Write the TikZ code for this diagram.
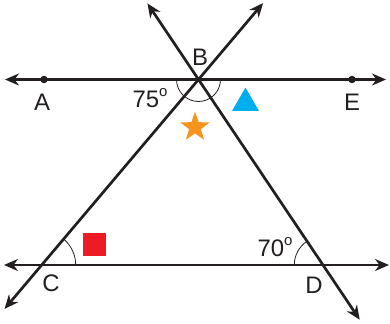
\documentclass[tikz,border=0pt]{standalone}
\usepackage{fontspec}
\setmainfont{Liberation Sans}
\usetikzlibrary{arrows.meta,shapes.geometric,calc}
\definecolor{LineDark}{HTML}{231F20}
\definecolor{MarkRed}{HTML}{ED1C24}
\definecolor{MarkBlue}{HTML}{00AEEF}
\definecolor{MarkOrange}{HTML}{F7941D}

\begin{document}
\begin{tikzpicture}[
  x=1bp,y=1bp,
  ray/.style={draw=LineDark,line width=2.7bp,{Stealth[length=14bp,width=12bp]}-{Stealth[length=14bp,width=12bp]}},
  anglemark/.style={draw=LineDark,line width=0.8bp},
  lbl/.style={font=\fontsize{24}{28}\selectfont,text=LineDark,inner sep=0pt},
  dot/.style={circle,fill=LineDark,inner sep=0pt,minimum size=7.5bp}
]
  \useasboundingbox (0,0) rectangle (390,324);

  % points on the lines
  \coordinate (B) at (198.5,244.5);
  \coordinate (C) at (41.7,59);
  \coordinate (D) at (323,59);
  \node[dot] (A) at (44,244.5) {};
  \node[dot] (E) at (352,244.5) {};

  % ends of the lines
  \coordinate (topL) at (5,244.5);
  \coordinate (topR) at (386,244.5);
  \coordinate (botL) at (4,59);
  \coordinate (botR) at (389,59);
  \coordinate (cbUp) at ($(C)!1.412!(B)$);
  \coordinate (cbDown) at ($(B)!1.237!(C)$);
  \coordinate (dbUp) at ($(D)!1.41!(B)$);
  \coordinate (dbDown) at ($(B)!1.295!(D)$);

  \draw[ray] (topL) -- (topR);
  \draw[ray] (botL) -- (botR);
  \draw[ray] (cbDown) -- (cbUp);
  \draw[ray] (dbUp) -- (dbDown);

  % angle marks
  \draw[anglemark] ($(B)+(-22,0)$) arc (180:360:22);
  \draw[anglemark] ($(C)+(34,0)$) arc (0:49.8:34);
  \draw[anglemark] ($(D)+(-28.7,0)$) arc (180:123.9:28.7);

  % labels
  \node[lbl] (labB) at (200,267) {B};
  \node[lbl] (labA) at (42,222) {A};
  \node[lbl] (labE) at (352,222) {E};
  \node[lbl] (labC) at (51,41) {C};
  \node[lbl] (labD) at (314,39) {D};
  \node[lbl] (ang75) at (150,226) {75\raisebox{0.45em}{\fontsize{15}{15}\selectfont o}};
  \node[lbl] (ang70) at (275,77) {70\raisebox{0.45em}{\fontsize{15}{15}\selectfont o}};

  % symbols
  \node[fill=MarkRed,minimum size=23bp,inner sep=0pt] (square) at (94.5,79.5) {};
  \node[regular polygon,regular polygon sides=3,fill=MarkBlue,minimum size=31.2bp,inner sep=0pt] (tri) at (245.5,220.8) {};
  \node[star,star points=5,star point ratio=2.5,fill=MarkOrange,minimum size=31bp,inner sep=0pt] (starB) at (195,196.8) {};
\end{tikzpicture}
\end{document}
